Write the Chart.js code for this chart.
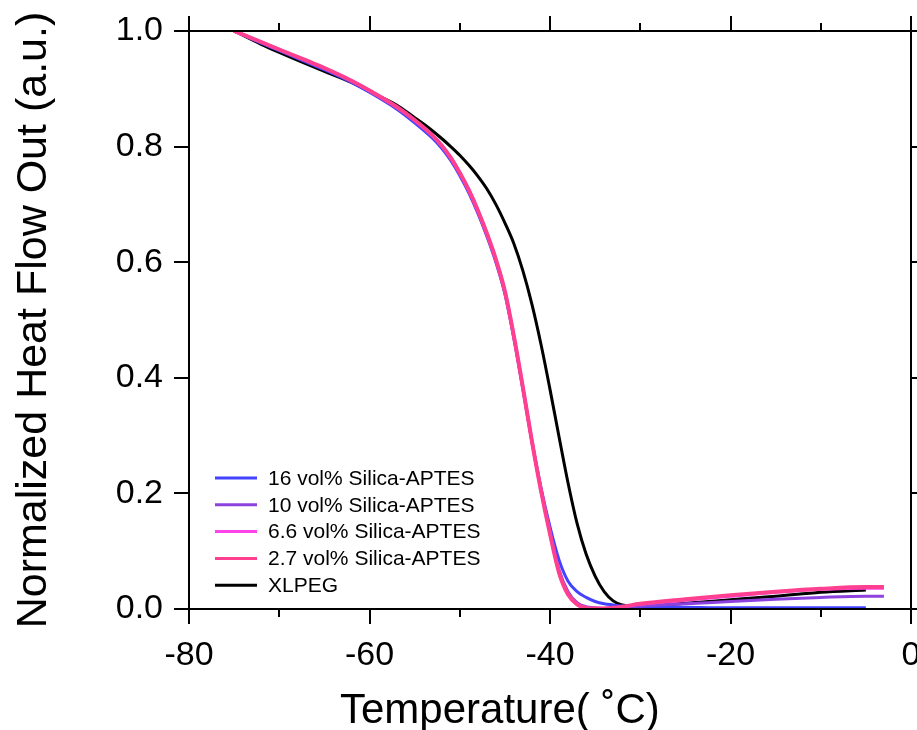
<!DOCTYPE html>
<html>
<head>
<meta charset="utf-8">
<script src="https://cdn.jsdelivr.net/npm/chart.js@4.4.1/dist/chart.umd.min.js"></script>
<style>
  html, body { margin: 0; padding: 0; background: #fff; }
  #wrap { width: 917px; height: 730px; }
</style>
</head>
<body>
<div id="wrap"><canvas id="dscChart" width="917" height="730"></canvas></div>
<script>
// Temperature grid shared by the silica samples (deg C)
const tempSilica = [-75, -72, -70, -67, -65, -62, -60, -57, -55, -53, -52, -51, -50, -49, -48, -47, -46, -45, -44, -43,
                    -42, -41, -40, -39, -38, -37, -36, -35, -34, -33, -32, -30, -25, -20, -15, -10, -5, -3];
const tempXlpeg = [-75, -72, -70, -67, -65, -62, -60, -57, -55, -54, -53, -52, -51, -50, -49, -48, -47, -46, -45, -44, -43,
                   -42, -41, -40, -39, -38, -37, -36, -35, -34, -33, -32, -30, -25, -20, -15, -10, -5];

// Normalized heat flow values
const silica16 = [1.0, 0.979, 0.966, 0.946, 0.933, 0.911, 0.894, 0.865, 0.841, 0.814, 0.797, 0.776, 0.75, 0.72, 0.685, 0.645, 0.6, 0.545, 0.468, 0.38,
                  0.29, 0.21, 0.142, 0.085, 0.048, 0.03, 0.02, 0.013, 0.009, 0.007, 0.005, 0.004, 0.003, 0.002, 0.002, 0.002, 0.002, null];
const silica10 = [1.0, 0.98, 0.967, 0.948, 0.935, 0.913, 0.896, 0.867, 0.844, 0.817, 0.8, 0.779, 0.753, 0.723, 0.688, 0.648, 0.603, 0.548, 0.47, 0.382,
                  0.29, 0.207, 0.134, 0.068, 0.03, 0.011, 0.004, 0.002, 0.001, 0.002, 0.003, 0.005, 0.009, 0.013, 0.017, 0.02, 0.022, 0.022];
const silica66 = [1.0, 0.981, 0.968, 0.949, 0.936, 0.914, 0.897, 0.869, 0.846, 0.819, 0.802, 0.781, 0.755, 0.725, 0.69, 0.65, 0.605, 0.55, 0.472, 0.383,
                  0.29, 0.205, 0.13, 0.063, 0.025, 0.008, 0.002, 0.001, 0.001, 0.002, 0.004, 0.008, 0.015, 0.022, 0.029, 0.034, 0.036, 0.036];
const silica27 = [1.0, 0.981, 0.968, 0.949, 0.936, 0.914, 0.897, 0.869, 0.846, 0.819, 0.802, 0.781, 0.755, 0.725, 0.69, 0.65, 0.605, 0.55, 0.472, 0.383,
                  0.29, 0.205, 0.13, 0.063, 0.025, 0.008, 0.002, 0.001, 0.001, 0.002, 0.004, 0.009, 0.017, 0.024, 0.03, 0.035, 0.038, 0.038];
const xlpeg = [1.0, 0.977, 0.963, 0.943, 0.93, 0.911, 0.895, 0.872, 0.85, 0.839, 0.827, 0.814, 0.8, 0.785, 0.768, 0.749, 0.727, 0.7, 0.668, 0.632, 0.585,
               0.527, 0.458, 0.38, 0.298, 0.218, 0.148, 0.095, 0.057, 0.03, 0.014, 0.007, 0.005, 0.01, 0.016, 0.022, 0.029, 0.033];

// Axis ticks
const xMajorTicks = [-80, -60, -40, -20, 0];
const xMinorTicks = [-70, -50, -30, -10];
const yMajorTicks = [0, 0.2, 0.4, 0.6, 0.8, 1.0];

const seriesLabels = ['16 vol% Silica-APTES', '10 vol% Silica-APTES', '6.6 vol% Silica-APTES', '2.7 vol% Silica-APTES', 'XLPEG'];
const seriesColors = ['#4343ff', '#8d42e0', '#ff42ea', '#ff4090', '#000000'];

function toPoints(xs, ys) {
    return xs.map((x, i) => ({ x: x, y: ys[i] }));
}

// Box frame with outward ticks, titles and an inset legend
const framePlugin = {
    id: 'frame',
    afterDraw(chart) {
        const ctx = chart.ctx;
        const area = chart.chartArea;
        const xs = chart.scales.x;
        const ys = chart.scales.y;
        ctx.save();
        ctx.strokeStyle = '#000';
        ctx.lineWidth = 2;
        ctx.lineCap = 'butt';
        ctx.beginPath();
        ctx.moveTo(area.left, area.top); ctx.lineTo(area.right, area.top);
        ctx.moveTo(area.left, area.bottom); ctx.lineTo(area.right, area.bottom);
        ctx.moveTo(area.left, area.top - 15); ctx.lineTo(area.left, area.bottom + 15);
        ctx.moveTo(area.right, area.top - 15); ctx.lineTo(area.right, area.bottom + 15);
        xMajorTicks.forEach(v => {
            const px = Math.round(xs.getPixelForValue(v));
            ctx.moveTo(px, area.bottom); ctx.lineTo(px, area.bottom + 15);
            ctx.moveTo(px, area.top); ctx.lineTo(px, area.top - 15);
        });
        xMinorTicks.forEach(v => {
            const px = Math.round(xs.getPixelForValue(v));
            ctx.moveTo(px, area.bottom); ctx.lineTo(px, area.bottom + 8);
            ctx.moveTo(px, area.top); ctx.lineTo(px, area.top - 8);
        });
        yMajorTicks.forEach(v => {
            const py = Math.round(ys.getPixelForValue(v));
            ctx.moveTo(area.left, py); ctx.lineTo(area.left - 15, py);
            ctx.moveTo(area.right, py); ctx.lineTo(area.right + 15, py);
        });
        ctx.stroke();

        // Axis titles
        ctx.fillStyle = '#000';
        ctx.font = '42px "Liberation Sans", Arial, sans-serif';
        ctx.textAlign = 'left';
        ctx.textBaseline = 'alphabetic';
        ctx.fillText('Temperature( \u02DAC)', 340, 723);

        ctx.translate(46, (area.top + area.bottom) / 2);
        ctx.rotate(-Math.PI / 2);
        ctx.font = '43px "Liberation Sans", Arial, sans-serif';
        ctx.textAlign = 'center';
        ctx.fillText('Normalized Heat Flow Out (a.u.)', 0, 0);
        ctx.restore();

        // Legend
        ctx.save();
        ctx.font = '21px "Liberation Sans", Arial, sans-serif';
        ctx.textBaseline = 'middle';
        ctx.textAlign = 'left';
        chart.data.datasets.forEach((ds, i) => {
            const y = 478 + i * 26.8;
            ctx.strokeStyle = ds.borderColor;
            ctx.lineWidth = 3;
            ctx.beginPath();
            ctx.moveTo(215, y); ctx.lineTo(257, y);
            ctx.stroke();
            ctx.fillStyle = '#000';
            ctx.fillText(ds.label, 268, y + 1);
        });
        ctx.restore();
    }
};

window.onload = function() {
    const ctx = document.getElementById('dscChart').getContext('2d');
    const seriesData = [
        toPoints(tempSilica, silica16),
        toPoints(tempSilica, silica10),
        toPoints(tempSilica, silica66),
        toPoints(tempSilica, silica27),
        toPoints(tempXlpeg, xlpeg)
    ];
    const drawOrder = [4, 3, 2, 1, 5];

    new Chart(ctx, {
        type: 'line',
        data: {
            datasets: seriesData.map((pts, i) => ({
                label: seriesLabels[i],
                data: pts,
                borderColor: seriesColors[i],
                backgroundColor: seriesColors[i],
                borderWidth: i === 3 ? 4 : 3,
                pointRadius: 0,
                fill: false,
                cubicInterpolationMode: 'monotone',
                order: drawOrder[i]
            }))
        },
        options: {
            responsive: false,
            animation: false,
            layout: { padding: { top: 31, right: 6, left: 0, bottom: 0 } },
            plugins: {
                legend: { display: false },
                tooltip: { enabled: false }
            },
            scales: {
                x: {
                    type: 'linear',
                    min: -80,
                    max: 0,
                    grid: { display: false, drawTicks: false },
                    border: { display: false },
                    ticks: {
                        stepSize: 20,
                        padding: 26,
                        color: '#000',
                        maxRotation: 0,
                        font: { family: '"Liberation Sans", Arial, sans-serif', size: 34 }
                    },
                    afterFit: function(scale) {
                        scale.height = 121;
                        scale.paddingLeft = 0;
                        scale.paddingRight = 0;
                    }
                },
                y: {
                    min: 0,
                    max: 1,
                    grid: { display: false, drawTicks: false },
                    border: { display: false },
                    ticks: {
                        stepSize: 0.2,
                        padding: 26,
                        color: '#000',
                        font: { family: '"Liberation Sans", Arial, sans-serif', size: 34 },
                        callback: function(value) {
                            return value.toFixed(1);
                        }
                    },
                    afterFit: function(scale) {
                        scale.width = 189;
                        scale.paddingTop = 0;
                        scale.paddingBottom = 0;
                    }
                }
            }
        },
        plugins: [framePlugin]
    });
};
</script>
</body>
</html>
